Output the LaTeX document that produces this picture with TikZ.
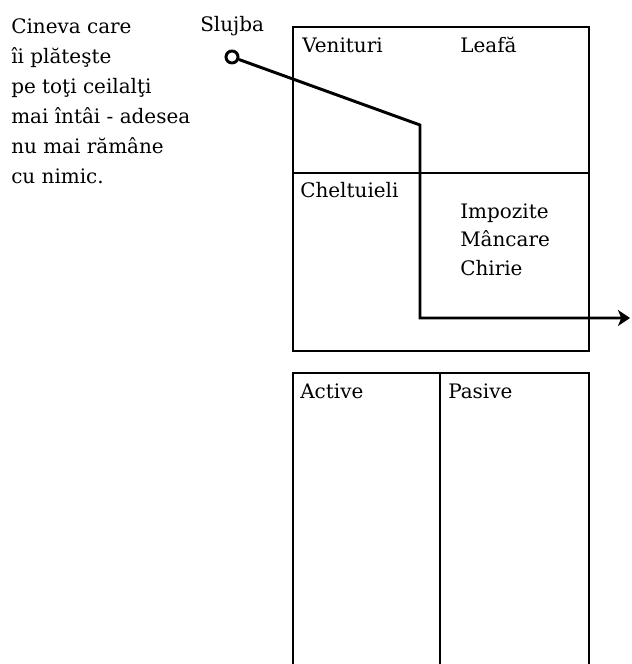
\documentclass[tikz,border=0pt]{standalone}
\usepackage{fontspec}
\setmainfont{DejaVu Serif}
\usetikzlibrary{arrows.meta}

\tikzset{
  eticheta/.style={anchor=base west, inner sep=0pt, font=\fontsize{14.2}{20}\selectfont},
  celula/.style={draw, rectangle, line width=1.2pt, anchor=north west, minimum width=7.4cm, inner sep=0pt},
  flux/.style={line width=2.1pt},
}

\begin{document}
\begin{tikzpicture}
    \useasboundingbox (0,0) rectangle (15.8,16.6);

    % Explanation on the left
    \node[eticheta, anchor=north west, align=left, font=\fontsize{14.2}{21.3}\selectfont] (cineva) at (0.275,16.14)
        {Cineva care\\ îi plăteşte\\ pe toţi ceilalţi\\ mai întâi - adesea\\ nu mai rămâne\\ cu nimic.};
    \node[eticheta] (slujba) at (5.0,15.8) {Slujba};

    % Income statement
    \node[celula, minimum height=3.65cm] (venituri) at (7.3,15.95) {};
    \node[celula, minimum height=4.45cm] (cheltuieli) at (7.3,12.3) {};
    \node[eticheta] at ([xshift=0.25cm, yshift=-0.675cm]venituri.north west) {Venituri};
    \node[eticheta] at ([xshift=4.2cm, yshift=-0.675cm]venituri.north west) {Leafă};
    \node[eticheta] at ([xshift=0.2cm, yshift=-0.65cm]cheltuieli.north west) {Cheltuieli};
    \node[eticheta, anchor=north west, align=left, font=\fontsize{14.2}{20.3}\selectfont] (plati) at (11.5,11.515)
        {Impozite\\ Mâncare\\ Chirie};

    % Balance sheet
    \node[celula, minimum width=3.675cm, minimum height=7.8cm] (active) at (7.3,7.3) {};
    \node[celula, minimum width=3.725cm, minimum height=7.8cm] (pasive) at (10.975,7.3) {};
    \node[eticheta] at ([xshift=0.2cm, yshift=-0.675cm]active.north west) {Active};
    \node[eticheta] at ([xshift=0.225cm, yshift=-0.675cm]pasive.north west) {Pasive};

    % Cash flow
    \node[draw, circle, line width=2.1pt, minimum size=0.3cm, inner sep=0pt] (slujbaPunct) at (5.8,15.175) {};
    \coordinate (cot) at (10.5,13.475);
    \coordinate (colt) at (10.5,8.65);
    \coordinate (iesire) at (15.75,8.65);
    \draw[flux, -{Stealth[length=0.3cm, width=0.4cm, inset=0.08cm]}] (slujbaPunct) -- (cot) -- (colt) -- (iesire);
\end{tikzpicture}
\end{document}
